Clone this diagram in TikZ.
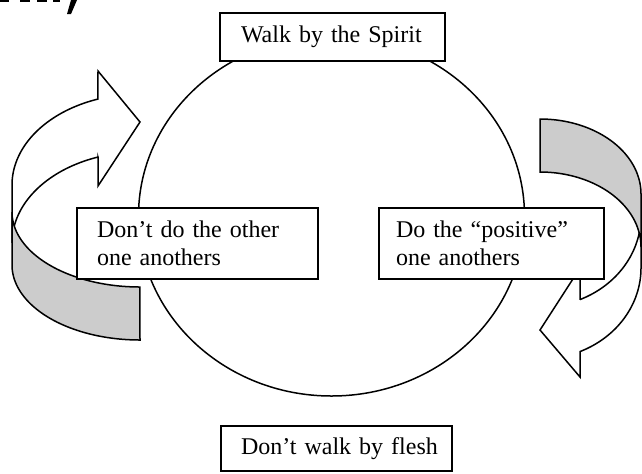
\documentclass[tikz,border=0pt]{standalone}
\usepackage{fontspec}
\setmainfont{Liberation Serif}
\usetikzlibrary{shapes.geometric}
\definecolor{bandgray}{RGB}{204,204,204}
\tikzset{
  outline/.style={draw=black, line width=0.75pt, line join=miter},
  tbox/.style={draw=black, line width=1pt, fill=white, align=left, inner xsep=10pt, inner ysep=0pt,
    font=\fontsize{12}{14}\selectfont, anchor=north west},
  crv/.style={domain=0:1, samples=50, variable=\t, smooth}
}
\begin{document}
\begin{tikzpicture}[x=0.5pt, y=-0.5pt]
\useasboundingbox (0,0) rectangle (642,473);
\fill[white] (0,0) rectangle (642,473);
% cut-off heading fragment
\fill[black] (0,0) rectangle (9,1.5);
\fill[black] (20,0) rectangle (30,1.5);
\fill[black] (37,0) rectangle (47,1.5);
\fill[black] (53,0) rectangle (60,1.5);
\fill[black] (71,0) -- (77,0) -- (71,14) -- (67,14) -- cycle;
% central cycle
\node[ellipse, draw=black, line width=0.75pt, inner sep=0pt, minimum width=193pt, minimum height=180pt] (cyc) at (331.5,216) {};
% left curved arrow: upper white body
\filldraw[fill=white, outline] (98,71) -- (140,122) -- (98,186) -- (98,157)
  -- plot[crv] ({140+128*cos(250.85-70.85*\t)},{243+91*sin(250.85-70.85*\t)})
  -- (12,185)
  -- plot[crv] ({140+128*cos(180+70.85*\t)},{185+91*sin(180+70.85*\t)})
  -- cycle;
% left curved arrow: lower shaded band
\filldraw[fill=bandgray, outline] (12,212)
  -- plot[crv] ({140+128*cos(180-90*\t)},{212+75*sin(180-90*\t)})
  -- (140,340)
  -- plot[crv] ({140+128*cos(90+90*\t)},{265+75*sin(90+90*\t)})
  -- cycle;
% right curved arrow: lower white body
\filldraw[fill=white, outline] (580,377) -- (540,330) -- (580,268) -- (580,299.6)
  -- plot[crv] ({540+101*cos(66.67-66.67*\t)},{216+91*sin(66.67-66.67*\t)})
  -- (641,268)
  -- plot[crv] ({540+101*cos(66.67*\t)},{268+91*sin(66.67*\t)})
  -- cycle;
% right curved arrow: upper shaded band
\filldraw[fill=bandgray, outline] (540,172) -- (540,119)
  -- plot[crv] ({540+101*cos(270+90*\t)},{194+75*sin(270+90*\t)})
  -- (641,247)
  -- plot[crv] ({540+101*cos(360-90*\t)},{247+75*sin(360-90*\t)})
  -- cycle;
% text boxes
\node[tbox, inner xsep=10.5pt, text width=91.5pt, minimum height=24pt] (spirit) at (219,12) {Walk by the Spirit};
\node[tbox, text width=100.5pt, minimum height=35.5pt] (dont) at (76,207) {Don’t do the other\\one anothers};
\node[tbox, inner xsep=8.5pt, text width=95.5pt, minimum height=35.5pt] (pos) at (378,207) {Do the “positive”\\one anothers};
\node[tbox, inner xsep=10pt, text width=95.5pt, minimum height=22.5pt] (flesh) at (220,425) {\mbox{Don’t walk by flesh}};
\end{tikzpicture}
\end{document}
